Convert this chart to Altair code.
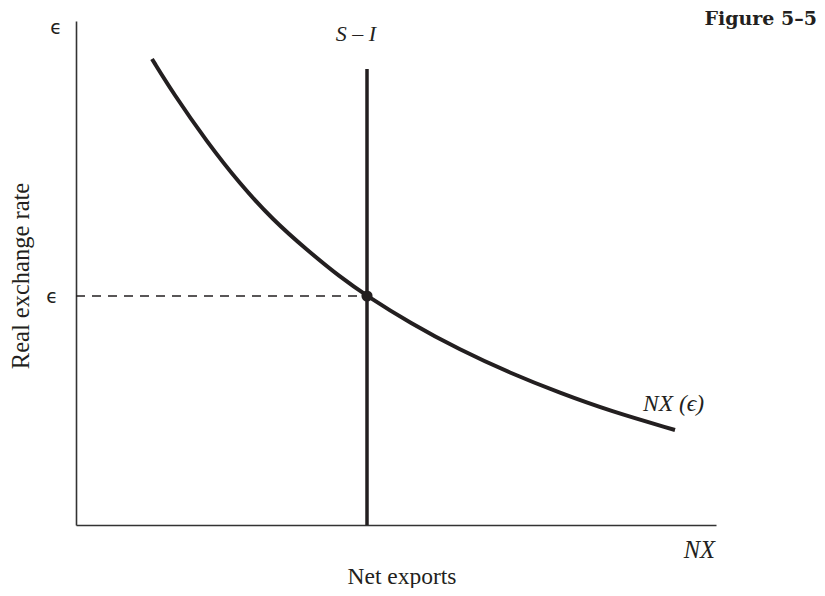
import altair as alt
import pandas as pd

# NX(epsilon) curve (x: net exports, y: real exchange rate)
curve_x = [76, 97, 131, 164, 197, 231, 264, 291, 334, 384, 434, 484, 534, 599]
curve_y = [466, 432, 383, 341, 305, 275, 248, 229, 202, 175, 152, 132, 114, 95]

# S - I vertical line and equilibrium
si_x = [291]
si_top = [456]
eq_x = [291]
eq_y = [229]

# annotations
ann_text = ["S – I", "NX (ϵ)", "NX"]
ann_x = [280, 567, 639]
ann_y = [484, 114, -33]
ann_align = ["center", "left", "right"]
ann_size = [22, 23.5, 24.5]

X_DOM = [0, 640]
Y_DOM = [0, 504]
INK = "#231f20"

curve_df = pd.DataFrame({"x": curve_x, "y": curve_y})
si_df = pd.DataFrame({"x": si_x, "y0": [0], "y1": si_top})
eq_df = pd.DataFrame({"x": eq_x, "y": eq_y, "x0": [0]})

xs = alt.Scale(domain=X_DOM, nice=False, zero=False)
ys = alt.Scale(domain=Y_DOM, nice=False, zero=False)
xax = alt.Axis(domain=True, ticks=False, labels=False, grid=False, title=None,
               domainColor="#333333", domainWidth=1.6)
yax = alt.Axis(domain=True, ticks=False, labels=False, grid=False, title=None,
               domainColor="#333333", domainWidth=1.6)

base_axes = alt.Chart(curve_df).mark_line(opacity=0).encode(
    x=alt.X("x:Q", scale=xs, axis=xax),
    y=alt.Y("y:Q", scale=ys, axis=yax),
)

curve = alt.Chart(curve_df).mark_line(color=INK, strokeWidth=4, interpolate="basis").encode(
    x=alt.X("x:Q", scale=xs), y=alt.Y("y:Q", scale=ys)
)

si_line = alt.Chart(si_df).mark_rule(color=INK, strokeWidth=3.5).encode(
    x=alt.X("x:Q", scale=xs), y=alt.Y("y0:Q", scale=ys), y2="y1:Q"
)

dash = alt.Chart(eq_df).mark_rule(color=INK, strokeWidth=1.3, strokeDash=[9, 7]).encode(
    x=alt.X("x0:Q", scale=xs), x2="x:Q", y=alt.Y("y:Q", scale=ys)
)

dot = alt.Chart(eq_df).mark_circle(color=INK, opacity=1, size=125).encode(
    x=alt.X("x:Q", scale=xs), y=alt.Y("y:Q", scale=ys)
)

def label(text, x, y, align="center", font="Liberation Serif", size=22, style="normal",
          weight="normal", angle=0, baseline="alphabetic"):
    df = pd.DataFrame({"t": [text], "x": [x], "y": [y]})
    return alt.Chart(df).mark_text(
        align=align, baseline=baseline, font=font, fontSize=size, fontStyle=style,
        fontWeight=weight, angle=angle, color=INK
    ).encode(x=alt.X("x:Q", scale=xs), y=alt.Y("y:Q", scale=ys), text="t:N")

labels = [label(t, x, y, align=a, style="italic", size=s)
          for t, x, y, a, s in zip(ann_text, ann_x, ann_y, ann_align, ann_size)]
labels += [
    label("Net exports", 326, -59, size=23.5),
    label("Real exchange rate", -54, 249, angle=270, baseline="middle", size=24.5),
    label("Figure 5–5", 741, 500, align="right", font="DejaVu Serif", size=19, weight="bold"),
    label("ϵ", -20, 497, font="DejaVu Sans", size=19, baseline="middle"),
    label("ϵ", -24, 228, font="DejaVu Sans", size=19, baseline="middle"),
]

chart = alt.layer(base_axes, dash, curve, si_line, dot, *labels).properties(
    width=640, height=504,
    background="white",
    autosize=alt.AutoSizeParams(type="none"),
    padding={"left": 68, "top": 13, "right": 101, "bottom": 63},
).configure_view(stroke=None)

chart.save("out.html", embed_options={"renderer": "svg", "actions": False})
